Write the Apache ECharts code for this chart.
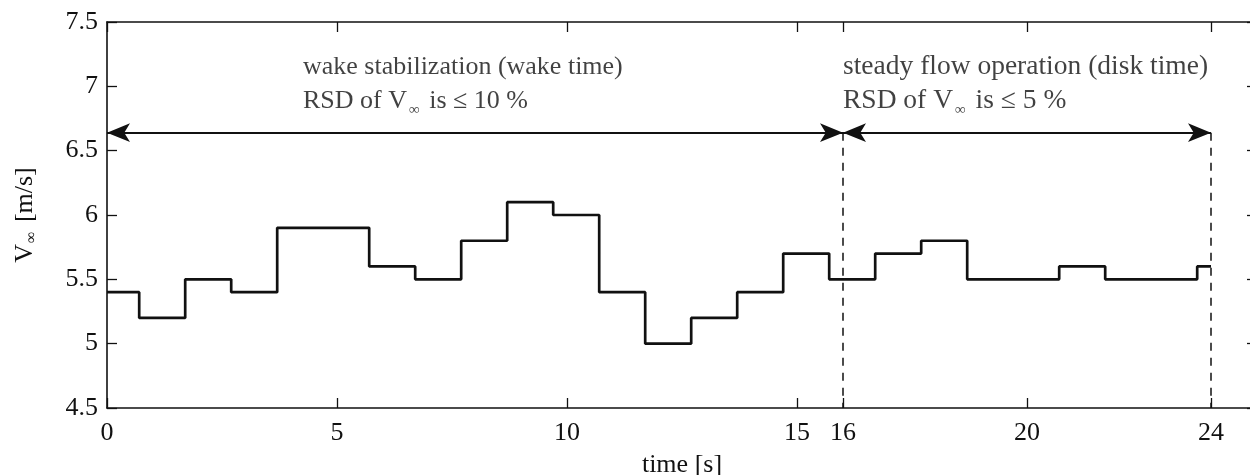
<!DOCTYPE html>
<html>
<head>
<meta charset="utf-8">
<script src="https://cdn.jsdelivr.net/npm/echarts@6/dist/echarts.min.js"></script>
<style>
  html, body { margin: 0; padding: 0; background: #fff; }
  #chart { width: 1250px; height: 475px; }
</style>
</head>
<body>
<div id="chart"></div>
<script>
// ---- data ----
const stepTimes  = [0, 0.7, 1.7, 2.7, 3.7, 4.7, 5.7, 6.7, 7.7, 8.7, 9.7, 10.7, 11.7, 12.7, 13.7, 14.7, 15.7, 16.7, 17.7, 18.7, 19.7, 20.7, 21.7, 22.7, 23.7, 24];
const stepSpeeds = [5.4, 5.2, 5.5, 5.4, 5.9, 5.9, 5.6, 5.5, 5.8, 6.1, 6.0, 5.4, 5.0, 5.2, 5.4, 5.7, 5.5, 5.7, 5.8, 5.5, 5.5, 5.6, 5.5, 5.5, 5.6, 5.6];
const xTickValues = [0, 5, 10, 15, 16, 20, 24];
const phaseStarts = [0, 16];
const phaseEnds   = [16, 24];
const arrowLevel  = 6.64;
const phaseTitles = ['wake stabilization (wake time)', 'steady flow operation (disk time)'];
const phaseRsd    = ['10', '5'];
const labelAnchors = [[4.26, 7.02], [16, 7.02]];

const FONT = "'Liberation Serif', 'Times New Roman', serif";
const INK = '#111';
const FS = 26;

const chart = echarts.init(document.getElementById('chart'), null, { renderer: 'canvas' });

const stepData = stepTimes.map((t, i) => [t, stepSpeeds[i]]);

const arrowLines = phaseStarts.map((s, i) => [
  { coord: [s, arrowLevel], symbol: 'arrow', symbolSize: [14, 23] },
  { coord: [phaseEnds[i], arrowLevel], symbol: 'arrow', symbolSize: [14, 23] }
]);
const dashedLines = [16, 24].map(x => [
  { coord: [x, arrowLevel], symbol: 'none', lineStyle: { type: [8, 7], width: 1.5, color: INK } },
  { coord: [x, 4.5], symbol: 'none' }
]);

function richFor(size) {
  return {
    a: { fontFamily: FONT, fontSize: size, color: INK, lineHeight: 34 },
    s: { fontFamily: FONT, fontSize: 15, color: INK, lineHeight: 34, verticalAlign: 'bottom', padding: [0, 3, 0, 2] }
  };
}

const annotationData = labelAnchors.map((p, i) => ({
  value: p,
  label: {
    formatter: '{a|' + phaseTitles[i] + '}\n{a|RSD of V}{s|∞}{a| is ≤ ' + phaseRsd[i] + ' %}',
    rich: richFor(i === 0 ? 26 : 27.5)
  }
}));

const axisCommon = {
  axisLine: { show: true, onZero: false, lineStyle: { color: INK, width: 1.6 } },
  axisTick: { show: true, inside: true, length: 10, lineStyle: { color: INK, width: 1.3 } },
  splitLine: { show: false }
};

chart.setOption({
  animation: false,
  backgroundColor: '#fff',
  grid: { left: 107, top: 22, width: 1150, height: 386, containLabel: false, outerBoundsMode: 'none' },
  xAxis: [
    Object.assign({}, axisCommon, {
      type: 'value', min: 0, max: 25, position: 'bottom',
      axisTick: Object.assign({}, axisCommon.axisTick, { customValues: xTickValues }),
      axisLabel: { customValues: xTickValues, fontFamily: FONT, fontSize: FS, color: INK, margin: 12 },
      name: 'time [s]', nameLocation: 'middle', nameGap: 44,
      nameTextStyle: { fontFamily: FONT, fontSize: FS, color: INK }
    }),
    Object.assign({}, axisCommon, {
      type: 'value', min: 0, max: 25, position: 'top',
      axisTick: Object.assign({}, axisCommon.axisTick, { customValues: xTickValues }),
      axisLabel: { show: false }
    })
  ],
  yAxis: [
    Object.assign({}, axisCommon, {
      type: 'value', min: 4.5, max: 7.5, interval: 0.5, position: 'left',
      axisLabel: { fontFamily: FONT, fontSize: FS, color: INK, margin: 9 },
      name: '{v|V}{s|∞}{v| [m/s]}', nameLocation: 'middle', nameGap: 67, nameRotate: 90,
      nameTextStyle: {
        rich: {
          v: { fontFamily: FONT, fontSize: FS, color: INK, lineHeight: 30 },
          s: { fontFamily: FONT, fontSize: 16, color: INK, lineHeight: 30, verticalAlign: 'bottom', padding: [0, 3, 0, 1] }
        }
      }
    }),
    Object.assign({}, axisCommon, {
      type: 'value', min: 4.5, max: 7.5, interval: 0.5, position: 'right',
      axisLabel: { show: false }
    })
  ],
  series: [
    {
      name: 'V_inf',
      type: 'line',
      step: 'end',
      data: stepData,
      showSymbol: false,
      symbol: 'none',
      lineStyle: { color: '#111', width: 2.7 },
      markLine: {
        silent: true,
        animation: false,
        label: { show: false },
        lineStyle: { color: INK, width: 2, type: 'solid' },
        emphasis: { disabled: true },
        data: arrowLines.concat(dashedLines)
      }
    },
    {
      name: 'annotations',
      type: 'scatter',
      symbolSize: 0,
      silent: true,
      data: annotationData,
      label: {
        show: true,
        position: 'right',
        distance: 0,
        align: 'left'
      }
    }
  ]
});
</script>
</body>
</html>
